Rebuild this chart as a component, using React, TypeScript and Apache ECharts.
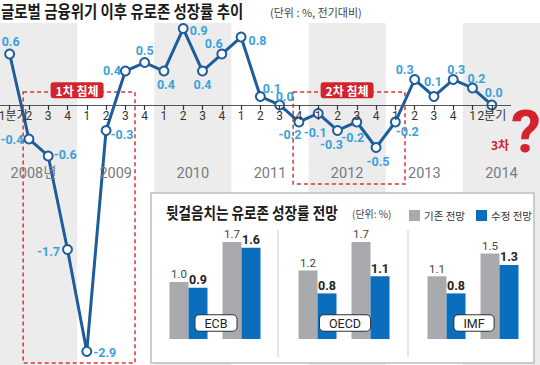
import React, { useEffect, useRef } from 'react';
import * as echarts from 'echarts';

// ---- data ----
const quarterLabels = ['1분기', '2', '3', '4', '1', '2', '3', '4', '1', '2', '3', '4', '1', '2', '3', '4', '1', '2', '3', '4', '1', '2', '3', '4', '1', '2분기', '', ''];
const yearLabels = ['2008년', '2009', '2010', '2011', '2012', '2013', '2014'];
const growth = [0.6, -0.4, -0.6, -1.7, -2.9, -0.3, 0.4, 0.5, 0.4, 0.9, 0.4, 0.6, 0.8, 0.1, 0.0, -0.2, -0.1, -0.3, -0.2, -0.5, -0.2, 0.3, 0.1, 0.3, 0.2, 0.0];
const recessionNames = ['1차 침체', '2차 침체'];

const forecastYears = ['2014', '2015'];
const institutions = ['ECB', 'OECD', 'IMF'];
const ecbPrev = [1.0, 1.7];
const ecbRev = [0.9, 1.6];
const oecdPrev = [1.2, 1.7];
const oecdRev = [0.8, 1.1];
const imfPrev = [1.1, 1.5];
const imfRev = [0.8, 1.3];
const prevSets = [ecbPrev, oecdPrev, imfPrev];
const revSets = [ecbRev, oecdRev, imfRev];

// ---- styling ----
const FONT_NUM = 'Roboto, "Noto Sans CJK KR", sans-serif';
const FONT_KR = '"Noto Sans CJK KR", sans-serif';
const LINE_BLUE = '#1d5d9b';
const LABEL_BLUE = '#3aa2d8';
const RED = '#d3232c';
const GRAY_BAR = '#a8aaad';
const BLUE_BAR = '#0b6ebd';
const BAND = '#ececec';

// label placement per point: [position, dx, dy]
const labelPlacement: [string, number, number][] = [
  ['top', 1, 1], ['left', 2, 1], ['right', -2, -1], ['left', 0, 2], ['right', -1, 1],
  ['right', -3, 4], ['left', 3, -1], ['top', 0, 2], ['bottom', 2, 0], ['right', -1, 2],
  ['bottom', 0, 0], ['top', -8, 3], ['right', 0, 3], ['right', -5, -8], ['top', 5, 5],
  ['bottom', -9, -1], ['bottom', -3, 5], ['bottom', -6, 0], ['bottom', -4, 2], ['bottom', 2, 0],
  ['right', -7, 10], ['top', -10, 4], ['top', -1, -1], ['top', 3, 4], ['top', 4, 4], ['top', 2, 1],
];

const panelLeft = [162, 291, 420];
const panelWidth = 106;
const panelTop = 225;
const panelHeight = 114;

export default function App() {
  const ref = useRef<HTMLDivElement>(null);
  useEffect(() => {
    const chart = echarts.init(ref.current!, null, { renderer: 'svg' });

    const grids: any[] = [
      { left: 0, right: 0, top: 23, bottom: 0, outerBoundsMode: 'none', containLabel: false },
      { left: 0, right: 0, top: 23, height: 138, outerBoundsMode: 'none', containLabel: false },
      ...panelLeft.map((l) => ({ left: l, width: panelWidth, top: panelTop, height: panelHeight, outerBoundsMode: 'none', containLabel: false })),
    ];

    const xAxes: any[] = [
      {
        type: 'category', gridIndex: 0, boundaryGap: true, z: 5,
        data: quarterLabels.map((q, i) => (i === 0 ? { value: q, textStyle: { padding: [0, 0, 0, 7] } } : q)),
        position: 'bottom', offset: -260,
        axisLine: { show: true, onZero: false, lineStyle: { opacity: 0 } },
        axisTick: { show: true, alignWithLabel: true, length: 5, interval: (i: number) => i < 26, lineStyle: { color: '#333', width: 1.2 } },
        axisLabel: { interval: 0, margin: 5, fontSize: 12, color: '#333', fontFamily: FONT_NUM },
      },
      { type: 'value', gridIndex: 0, min: 0, max: 28, show: false },
      {
        type: 'category', gridIndex: 1, z: 5,
        data: yearLabels.map((y, i) => (i === 0 ? { value: y, textStyle: { padding: [0, 10, 0, 0] } } : y)),
        axisLine: { show: false }, axisTick: { show: false },
        axisLabel: { margin: 5, fontSize: 14.5, color: '#7a7a7a', fontFamily: FONT_NUM },
      },
      ...panelLeft.map((_, p) => ({
        type: 'category', gridIndex: 2 + p, data: forecastYears,
        axisLine: { show: false }, axisTick: { show: false },
        axisLabel: { margin: 5, fontSize: 12.5, color: '#333', fontFamily: FONT_NUM },
      })),
    ];

    const yAxes: any[] = [
      { type: 'value', gridIndex: 0, min: -3.06, max: 0.965, show: false },
      { type: 'value', gridIndex: 1, show: false },
      ...panelLeft.map((_, p) => ({ type: 'value', gridIndex: 2 + p, min: 0, max: 2, show: false })),
    ];

    const bandData = [[0, 4], [8, 12], [16, 20], [24, 28]].map(([a, b]) => [{ xAxis: a }, { xAxis: b }]);
    const recessionData = [
      [{ name: recessionNames[0], coord: [1.2, 0.153] }, { coord: [7.0, -3.035] }],
      [{ name: recessionNames[1], coord: [15.2, 0.153] }, { coord: [21.0, -0.93] }],
    ];

    const series: any[] = [
      {
        type: 'line', xAxisIndex: 1, yAxisIndex: 0, data: [[0, 0]], symbol: 'none', silent: true, z: 1,
        markArea: { silent: true, itemStyle: { color: BAND }, label: { show: false }, data: bandData },
      },
      {
        type: 'line', xAxisIndex: 1, yAxisIndex: 0, data: [[0, 0]], symbol: 'none', silent: true, z: 2,
        markArea: {
          silent: true,
          itemStyle: { color: 'rgba(0,0,0,0)', borderColor: '#d8343c', borderWidth: 1.5, borderType: [4, 3] },
          label: {
            show: true, position: 'top', offset: [-2, 12], formatter: '{b}', color: '#fff', backgroundColor: RED,
            fontSize: 12, fontWeight: 'bold', fontFamily: FONT_KR, padding: [2, 5], borderRadius: 3,
          },
          data: recessionData,
        },
        markLine: {
          silent: true, symbol: 'none', label: { show: false },
          lineStyle: { color: '#555', width: 1, type: 'solid' },
          data: [[{ coord: [0, 0] }, { coord: [26.5, 0] }]],
        },
      },
      {
        type: 'line', xAxisIndex: 0, yAxisIndex: 0, z: 3,
        data: growth.map((v, i) => ({
          value: v,
          label: { position: labelPlacement[i][0], offset: [labelPlacement[i][1], labelPlacement[i][2]] },
        })),
        lineStyle: { color: LINE_BLUE, width: 3 },
        symbol: 'circle', symbolSize: 9, showAllSymbol: true,
        itemStyle: { color: '#fff', borderColor: LINE_BLUE, borderWidth: 2 },
        label: {
          show: true, distance: 2, color: LABEL_BLUE, fontSize: 12.5, fontWeight: 'bold', fontFamily: FONT_NUM,
          formatter: (p: any) => Number(p.value).toFixed(1),
        },
      },
    ];

    panelLeft.forEach((_, p) => {
      series.push({
        type: 'bar', name: '기존 전망', xAxisIndex: 3 + p, yAxisIndex: 2 + p, z: 10,
        data: prevSets[p], barWidth: 19, barGap: '0%', itemStyle: { color: GRAY_BAR },
        label: { show: true, position: 'top', distance: 2, fontSize: 11.5, color: '#444', fontFamily: FONT_NUM, formatter: (d: any) => Number(d.value).toFixed(1) },
      });
      series.push({
        type: 'bar', name: '수정 전망', xAxisIndex: 3 + p, yAxisIndex: 2 + p, z: 10,
        data: revSets[p], barWidth: 19, barGap: '0%', itemStyle: { color: BLUE_BAR },
        label: { show: true, position: 'top', distance: 2, fontSize: 12.5, fontWeight: 'bold', color: '#222', fontFamily: FONT_NUM, formatter: (d: any) => Number(d.value).toFixed(1) },
      });
    });

    const graphic: any[] = [
      {
        type: 'text', x: 1, y: 11, scaleX: 0.85, z: 20,
        style: { text: '글로벌 금융위기 이후 유로존 성장률 추이', fill: '#1a1a1a', fontSize: 17, fontWeight: 'bold', fontFamily: FONT_KR, textVerticalAlign: 'middle' },
      },
      {
        type: 'text', x: 270, y: 12, z: 20,
        style: { text: '(단위 : %, 전기대비)', fill: '#444', fontSize: 11, fontFamily: FONT_KR, textVerticalAlign: 'middle' },
      },
      {
        type: 'text', x: 526, y: 131, z: 20,
        style: { text: '?', fill: RED, fontSize: 60, fontWeight: 'bold', fontFamily: FONT_NUM, textAlign: 'center', textVerticalAlign: 'middle' },
      },
      {
        type: 'text', x: 500, y: 144, z: 20,
        style: { text: '3차', fill: RED, fontSize: 12, fontWeight: 'bold', fontFamily: FONT_KR, textAlign: 'center', textVerticalAlign: 'middle' },
      },
      {
        type: 'rect', z: 5, shape: { x: 151, y: 193, width: 383, height: 170 },
        style: { fill: '#fff', stroke: '#bdbdbd', lineWidth: 1.5 },
      },
      {
        type: 'text', x: 166, y: 212, scaleX: 0.85, z: 20,
        style: { text: '뒷걸음치는 유로존 성장률 전망', fill: '#1a1a1a', fontSize: 16, fontWeight: 'bold', fontFamily: FONT_KR, textVerticalAlign: 'middle' },
      },
      {
        type: 'text', x: 352, y: 213, z: 20,
        style: { text: '(단위: %)', fill: '#444', fontSize: 10, fontFamily: FONT_KR, textVerticalAlign: 'middle' },
      },
      ...[278, 408].map((x) => ({
        type: 'line', z: 6, shape: { x1: x, y1: 230, x2: x, y2: 357 }, style: { stroke: '#cfcfcf', lineWidth: 1 },
      })),
      ...institutions.map((name, p) => ({
        type: 'text', x: panelLeft[p] + panelWidth / 2 + 1, y: 323, z: 20,
        style: {
          text: name, fill: '#222', fontSize: 12.5, fontFamily: FONT_NUM, textAlign: 'center', textVerticalAlign: 'middle',
          backgroundColor: '#fff', borderColor: '#333', borderWidth: 1, borderRadius: 4, padding: [2, 9, 1, 9],
        },
      })),
    ];

    chart.setOption({
      animation: false,
      backgroundColor: '#fff',
      grid: grids,
      xAxis: xAxes,
      yAxis: yAxes,
      series,
      graphic,
      legend: {
        data: ['기존 전망', '수정 전망'], left: 404, top: 205, icon: 'rect', itemWidth: 11, itemHeight: 11, itemGap: 11, z: 20,
        selectedMode: false,
        textStyle: { fontSize: 10.5, color: '#333', fontFamily: FONT_KR, padding: [0, 0, 0, -1] },
      },
    });
    return () => chart.dispose();
  }, []);
  return <div ref={ref} style={{ position: 'fixed', left: 0, top: 0, width: 540, height: 365 }} />;
}
